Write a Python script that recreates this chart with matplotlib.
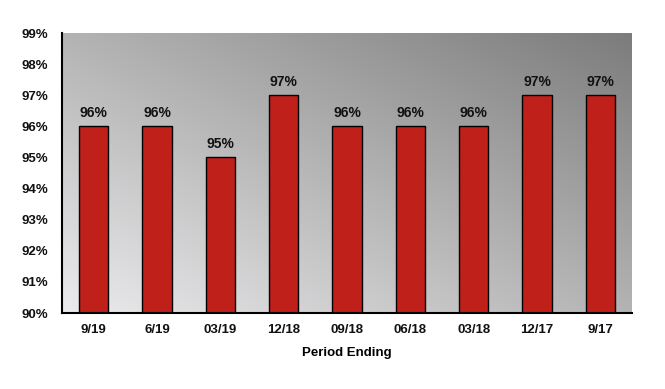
import matplotlib
matplotlib.use("Agg")
import matplotlib.pyplot as plt
import numpy as np
from matplotlib.colors import LinearSegmentedColormap

categories = ["9/19", "6/19", "03/19", "12/18", "09/18", "06/18", "03/18", "12/17", "9/17"]
values = [96, 96, 95, 97, 96, 96, 96, 97, 97]
yticks = [90, 91, 92, 93, 94, 95, 96, 97, 98, 99]

plt.rcParams['font.family'] = ['Liberation Sans', 'DejaVu Sans']
plt.rcParams['font.weight'] = 'bold'

fig = plt.figure(figsize=(6.65, 3.89), dpi=100)
ax = fig.add_axes([62/665, 76/389, 570/665, 280/389])

# gradient background
n = 200
gx, gy = np.meshgrid(np.linspace(0, 1, n), np.linspace(0, 1, n))
g = (gx + gy) / 2
cmap = LinearSegmentedColormap.from_list("bg", ["#ebebed", "#7c7c7c"])
ax.imshow(g, cmap=cmap, origin="lower", extent=[0, 1, 0, 1], transform=ax.transAxes,
          aspect="auto", zorder=0, interpolation="bilinear")

x = np.arange(len(categories))
ax.bar(x, [v - 90 for v in values], bottom=90, width=0.46, color="#c0201a",
       edgecolor="black", linewidth=1.0, zorder=2)
for xi, v in zip(x, values):
    ax.text(xi, v + 0.2, f"{v}%", ha="center", va="bottom", fontsize=10,
            fontweight="bold", color="#111111", zorder=3)

ax.set_xlim(-0.5, len(categories) - 0.5)
ax.set_ylim(90, 99)
ax.set_yticks(yticks)
ax.set_yticklabels([f"{t}%" for t in yticks])
ax.set_xticks(x)
ax.set_xticklabels(categories)
ax.tick_params(axis="both", length=0, labelsize=9.5, colors="#111111")
ax.tick_params(axis="y", pad=10)
ax.tick_params(axis="x", pad=8)
for lbl in ax.get_xticklabels() + ax.get_yticklabels():
    lbl.set_fontweight("bold")

ax.spines["right"].set_visible(False)
ax.spines["top"].set_visible(False)
ax.spines["left"].set_linewidth(1.5)
ax.spines["bottom"].set_linewidth(1.5)
ax.set_xlabel("Period Ending", fontsize=9.5, fontweight="bold", labelpad=8)

fig.savefig("out.png", dpi=100)
